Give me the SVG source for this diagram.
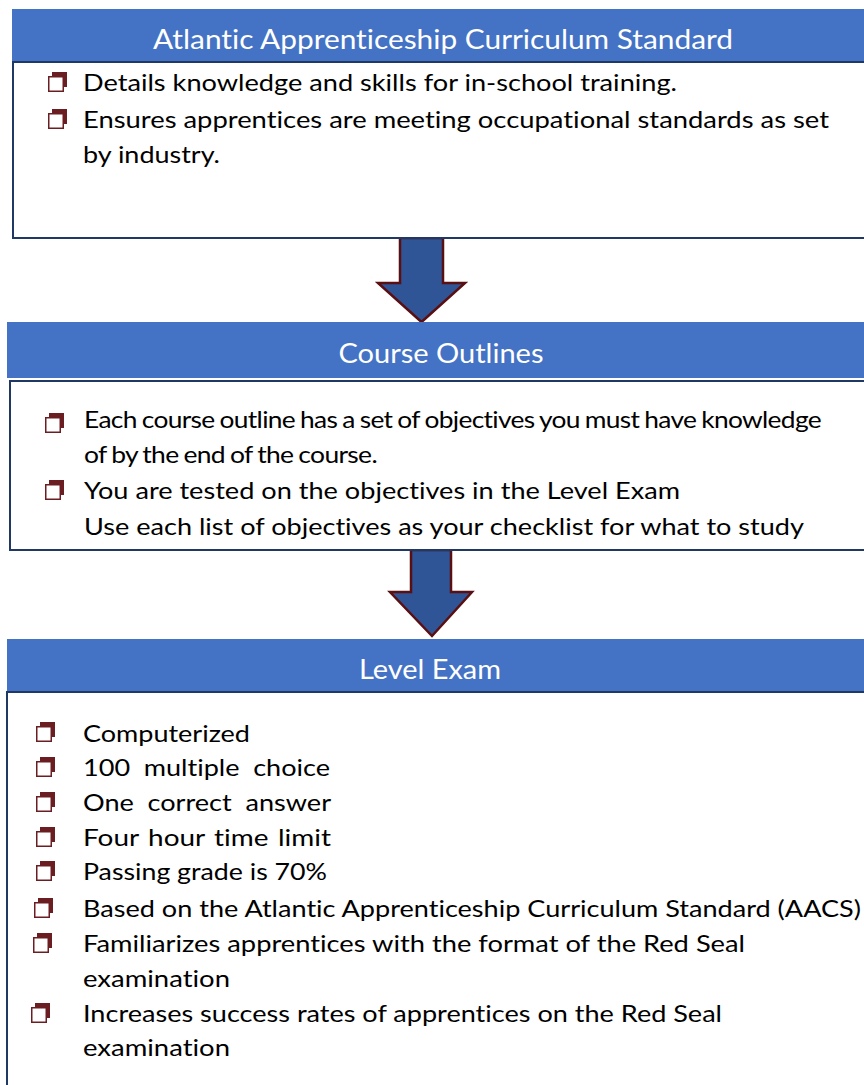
<svg xmlns="http://www.w3.org/2000/svg" xmlns:xlink="http://www.w3.org/1999/xlink" width="864" height="1085" viewBox="0 0 864 1085">
<style>
.hdr{fill:#4472C4}
.body{fill:#fff;stroke:#203864;stroke-width:2}
.ttl{font-family:Lato,"Liberation Sans",sans-serif;font-size:26px;fill:#fff;text-anchor:middle;font-variant-ligatures:none;font-feature-settings:"liga" 0}
.t{font-family:Lato,"Liberation Sans",sans-serif;font-size:24px;fill:#000;font-variant-ligatures:none;font-feature-settings:"liga" 0}
.arr{fill:#2F5597;stroke:#5A0F12;stroke-width:2.5;stroke-linejoin:miter}
</style>
<defs>
<g id="cb">
<rect x="4" y="0" width="15" height="15" fill="#6B1E22"/>
<rect x="0.75" y="4.75" width="14.5" height="14.5" fill="#fff" stroke="#6B1E22" stroke-width="1.5"/>
</g>
</defs>
<rect width="864" height="1085" fill="#fff"/>
<g id="connectors">
<path class="arr" d="M400,238 L443,238 L443,283 L465,283 L421.5,322 L378,283 L400,283 Z"/>
<path class="arr" d="M411,550 L451,550 L451,592 L472,592 L432,636 L390,592 L411,592 Z"/>
</g>
<g id="node-aacs">
<rect class="body" x="13" y="62" width="860" height="176"/>
<rect class="hdr" x="12" y="9" width="860" height="52"/>
<text class="ttl" x="443" y="49" textLength="580" lengthAdjust="spacingAndGlyphs">Atlantic Apprenticeship Curriculum Standard</text>
<use xlink:href="#cb" x="48" y="72"/>
<text class="t" x="83" y="91" textLength="594" lengthAdjust="spacingAndGlyphs">Details knowledge and skills for in-school training.</text>
<use xlink:href="#cb" x="48" y="109"/>
<text class="t" x="83" y="128" textLength="746" lengthAdjust="spacingAndGlyphs">Ensures apprentices are meeting occupational standards as set</text>
<text class="t" x="83" y="163" textLength="137" lengthAdjust="spacingAndGlyphs">by industry.</text>
</g>
<g id="node-course">
<rect class="body" x="10" y="381" width="860" height="169"/>
<rect class="hdr" x="7" y="322" width="860" height="56"/>
<text class="ttl" x="441" y="363" textLength="205" lengthAdjust="spacingAndGlyphs">Course Outlines</text>
<use xlink:href="#cb" x="45" y="413"/>
<text class="t" x="84" y="428" textLength="737" lengthAdjust="spacingAndGlyphs" letter-spacing="-0.6" word-spacing="-1">Each course outline has a set of objectives you must have knowledge</text>
<text class="t" x="84" y="463" textLength="293" lengthAdjust="spacingAndGlyphs" letter-spacing="-0.6" word-spacing="-1">of by the end of the course.</text>
<use xlink:href="#cb" x="45" y="480"/>
<text class="t" x="84" y="499" textLength="596" lengthAdjust="spacingAndGlyphs">You are tested on the objectives in the Level Exam</text>
<text class="t" x="84" y="535" textLength="720" lengthAdjust="spacingAndGlyphs">Use each list of objectives as your checklist for what to study</text>
</g>
<g id="node-exam">
<rect class="body" x="7" y="692" width="860" height="500"/>
<rect class="hdr" x="7" y="639" width="860" height="52"/>
<text class="ttl" x="430" y="679" textLength="142" lengthAdjust="spacingAndGlyphs">Level Exam</text>
<use xlink:href="#cb" x="36" y="722"/>
<text class="t" x="83" y="742" textLength="167" lengthAdjust="spacingAndGlyphs">Computerized</text>
<use xlink:href="#cb" x="36" y="757"/>
<text class="t" x="83" y="776" textLength="247" lengthAdjust="spacingAndGlyphs" word-spacing="6">100 multiple choice</text>
<use xlink:href="#cb" x="36" y="792"/>
<text class="t" x="83" y="811" textLength="248" lengthAdjust="spacingAndGlyphs" word-spacing="6">One correct answer</text>
<use xlink:href="#cb" x="36" y="827"/>
<text class="t" x="83" y="846" textLength="248" lengthAdjust="spacingAndGlyphs" word-spacing="2">Four hour time limit</text>
<use xlink:href="#cb" x="36" y="861"/>
<text class="t" x="83" y="880" textLength="244" lengthAdjust="spacingAndGlyphs">Passing grade is 70%</text>
<use xlink:href="#cb" x="34" y="898"/>
<text class="t" x="83" y="917" textLength="778" lengthAdjust="spacingAndGlyphs">Based on the Atlantic Apprenticeship Curriculum Standard (AACS)</text>
<use xlink:href="#cb" x="33" y="933"/>
<text class="t" x="83" y="952" textLength="662" lengthAdjust="spacingAndGlyphs">Familiarizes apprentices with the format of the Red Seal</text>
<text class="t" x="83" y="987" textLength="147" lengthAdjust="spacingAndGlyphs">examination</text>
<use xlink:href="#cb" x="31" y="1003"/>
<text class="t" x="83" y="1022" textLength="639" lengthAdjust="spacingAndGlyphs">Increases success rates of apprentices on the Red Seal</text>
<text class="t" x="83" y="1056" textLength="147" lengthAdjust="spacingAndGlyphs">examination</text>
</g>
</svg>
